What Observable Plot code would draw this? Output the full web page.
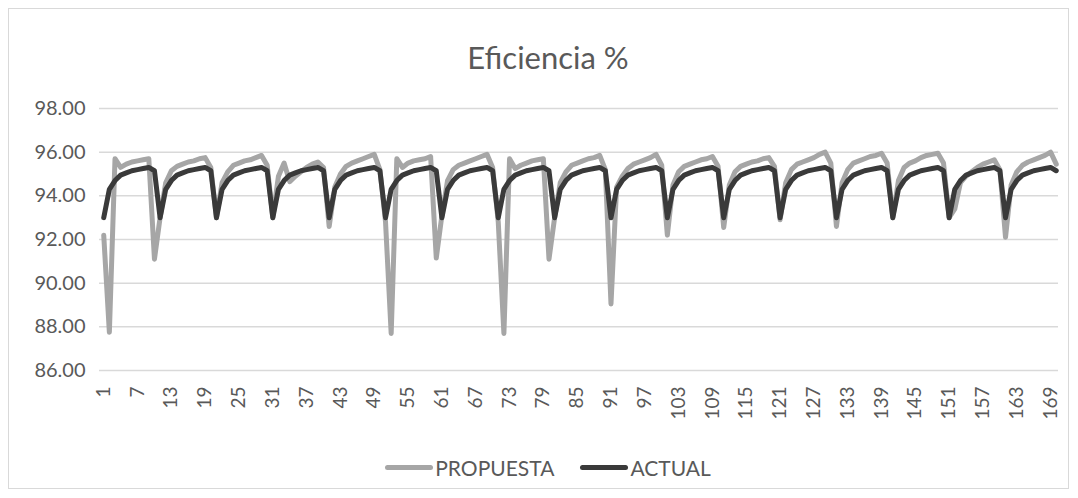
<!DOCTYPE html>
<html>
<head>
<meta charset="utf-8">
<script src="https://cdn.jsdelivr.net/npm/d3@7"></script>
<script src="https://cdn.jsdelivr.net/npm/@observablehq/plot@0.6"></script>
<style>
  html, body { margin: 0; padding: 0; background: #fff; }
  #wrap { position: relative; width: 1078px; height: 498px; overflow: hidden; font-family: Lato, "Open Sans", sans-serif; }
  #frame { position: absolute; left: 8px; top: 8px; width: 1061px; height: 481px; border: 1px solid #d9d9d9; box-sizing: border-box; }
  #title { position: absolute; left: 0; width: 1096px; top: 38px; text-align: center; font-size: 31px; color: #595959; }
  #chart { position: absolute; left: 0; top: 0; }
  #legend { position: absolute; left: 0; width: 1096px; top: 449px; text-align: center; font-size: 21px; color: #595959; white-space: nowrap; }
  .item { display: inline-flex; align-items: center; margin: 0 13px; }
  .sw { display: inline-block; width: 48px; height: 5px; border-radius: 3px; margin-right: 2px; }
</style>
</head>
<body>
<div id="wrap">
  <div id="frame"></div>
  <div id="title">Eficiencia %</div>
  <div id="chart"></div>
  <div id="legend"></div>
</div>
<script>
const seriesNames = ["PROPUESTA", "ACTUAL"];
const seriesColors = ["#a6a6a6", "#3a3a3a"];
const categories = d3.range(1, 171);
const xTickLabels = [1,7,13,19,25,31,37,43,49,55,61,67,73,79,85,91,97,103,109,115,121,127,133,139,145,151,157,163,169];
const yTickLabels = [86, 88, 90, 92, 94, 96, 98];

const propuesta = [
  92.2, 87.75, 95.7, 95.3, 95.45, 95.55, 95.6, 95.65, 95.7, 91.1,
  93.0, 94.6, 95.15, 95.35, 95.45, 95.55, 95.6, 95.7, 95.75, 95.3,
  93.0, 94.6, 95.1, 95.4, 95.5, 95.6, 95.65, 95.75, 95.85, 95.4,
  93.0, 94.9, 95.5, 94.65, 94.9, 95.1, 95.3, 95.45, 95.55, 95.3,
  92.6, 94.4, 95.0, 95.35, 95.5, 95.6, 95.7, 95.8, 95.9, 95.2,
  92.8, 87.7, 95.7, 95.3, 95.5, 95.6, 95.65, 95.7, 95.8, 91.15,
  93.1, 94.7, 95.2, 95.4, 95.5, 95.6, 95.7, 95.8, 95.9, 95.3,
  92.8, 87.7, 95.7, 95.25, 95.4, 95.5, 95.6, 95.65, 95.7, 91.1,
  93.0, 94.6, 95.1, 95.4, 95.5, 95.6, 95.7, 95.75, 95.85, 95.2,
  89.05, 94.4, 94.9, 95.25, 95.45, 95.55, 95.65, 95.75, 95.9, 95.4,
  92.2, 94.5, 95.1, 95.35, 95.45, 95.55, 95.65, 95.7, 95.8, 95.35,
  92.55, 94.5, 95.1, 95.35, 95.45, 95.55, 95.6, 95.7, 95.75, 95.35,
  92.9, 94.6, 95.2, 95.45, 95.55, 95.65, 95.75, 95.9, 96.0, 95.5,
  92.6, 94.6, 95.2, 95.5, 95.6, 95.7, 95.8, 95.85, 95.95, 95.5,
  93.0, 94.7, 95.3, 95.5, 95.6, 95.75, 95.85, 95.9, 95.95, 95.5,
  93.0, 93.4, 94.6, 94.9, 95.1, 95.3, 95.45, 95.55, 95.65, 95.2,
  92.1, 94.5, 95.1, 95.4, 95.55, 95.65, 95.75, 95.85, 96.0, 95.45
];

const actual = [
  93.0, 94.3, 94.7, 94.95, 95.05, 95.15, 95.2, 95.25, 95.3, 95.15,
  93.0, 94.3, 94.7, 94.95, 95.05, 95.15, 95.2, 95.25, 95.3, 95.15,
  93.0, 94.3, 94.7, 94.95, 95.05, 95.15, 95.2, 95.25, 95.3, 95.15,
  93.0, 94.3, 94.7, 94.95, 95.05, 95.15, 95.2, 95.25, 95.3, 95.15,
  93.0, 94.3, 94.7, 94.95, 95.05, 95.15, 95.2, 95.25, 95.3, 95.15,
  93.0, 94.3, 94.7, 94.95, 95.05, 95.15, 95.2, 95.25, 95.3, 95.15,
  93.0, 94.3, 94.7, 94.95, 95.05, 95.15, 95.2, 95.25, 95.3, 95.15,
  93.0, 94.3, 94.7, 94.95, 95.05, 95.15, 95.2, 95.25, 95.3, 95.15,
  93.0, 94.3, 94.7, 94.95, 95.05, 95.15, 95.2, 95.25, 95.3, 95.15,
  93.0, 94.3, 94.7, 94.95, 95.05, 95.15, 95.2, 95.25, 95.3, 95.15,
  93.0, 94.3, 94.7, 94.95, 95.05, 95.15, 95.2, 95.25, 95.3, 95.15,
  93.0, 94.3, 94.7, 94.95, 95.05, 95.15, 95.2, 95.25, 95.3, 95.15,
  93.0, 94.3, 94.7, 94.95, 95.05, 95.15, 95.2, 95.25, 95.3, 95.15,
  93.0, 94.3, 94.7, 94.95, 95.05, 95.15, 95.2, 95.25, 95.3, 95.15,
  93.0, 94.3, 94.7, 94.95, 95.05, 95.15, 95.2, 95.25, 95.3, 95.15,
  93.0, 94.3, 94.7, 94.95, 95.05, 95.15, 95.2, 95.25, 95.3, 95.15,
  93.0, 94.3, 94.7, 94.95, 95.05, 95.15, 95.2, 95.25, 95.3, 95.15
];

const rowsP = categories.map((c, i) => ({x: c, y: propuesta[i]}));
const rowsA = categories.map((c, i) => ({x: c, y: actual[i]}));

const chart = Plot.plot({
  width: 1078,
  height: 440,
  marginLeft: 99,
  marginRight: 20,
  marginTop: 108,
  marginBottom: 70,
  style: {fontFamily: "Lato, 'Open Sans', sans-serif", background: "transparent", overflow: "visible"},
  x: {type: "linear", domain: [0.25, 170.4], axis: null},
  y: {domain: [86, 98], axis: null},
  marks: [
    Plot.ruleY(yTickLabels, {stroke: "#d9d9d9", strokeWidth: 1.5}),
    Plot.axisY({ticks: yTickLabels, tickSize: 0, tickPadding: 14, tickFormat: d => d.toFixed(2), fontSize: 20, fill: "#595959", label: null}),
    Plot.axisX({ticks: xTickLabels, tickSize: 0, tickPadding: 16, tickRotate: -90, tickFormat: d => String(d), fontSize: 19, fill: "#595959", label: null}),
    Plot.line(rowsP, {x: "x", y: "y", stroke: seriesColors[0], strokeWidth: 5, strokeLinejoin: "round", strokeLinecap: "round"}),
    Plot.line(rowsA, {x: "x", y: "y", stroke: seriesColors[1], strokeWidth: 5, strokeLinejoin: "round", strokeLinecap: "round"})
  ]
});
document.getElementById("chart").appendChild(chart);

const legend = document.getElementById("legend");
seriesNames.forEach((name, i) => {
  const it = document.createElement("span");
  it.className = "item";
  const sw = document.createElement("span");
  sw.className = "sw";
  sw.style.background = seriesColors[i];
  it.appendChild(sw);
  it.appendChild(document.createTextNode(name));
  legend.appendChild(it);
});
</script>
</body>
</html>
